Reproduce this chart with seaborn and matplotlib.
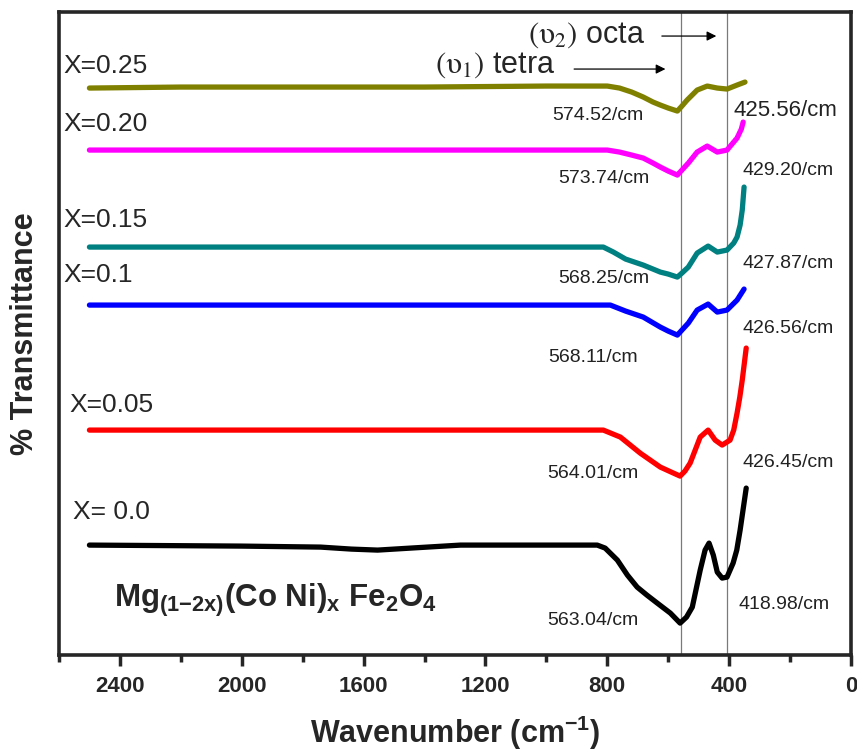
import numpy as np
import pandas as pd
import matplotlib
matplotlib.use("Agg")
import matplotlib.pyplot as plt
import seaborn as sns
from matplotlib.ticker import MultipleLocator

# ---------------- data ----------------
samples = ["X=0.25", "X=0.20", "X=0.15", "X=0.1", "X=0.05", "X= 0.0"]
colors = ["#808000", "#FF00FF", "#008080", "#0000FF", "#FF0000", "#000000"]

wn_025 = [2500, 2200, 1800, 1400, 1000, 800, 760, 720, 682, 650, 626, 600, 570, 555, 538, 505, 472, 439, 407, 374, 348]
t_025 = [567, 568, 568, 568, 569, 569, 567, 563, 558, 553, 550, 547, 544, 549, 555, 565, 569, 567, 566, 570, 573]

wn_020 = [2500, 2000, 1500, 1000, 800, 760, 720, 682, 650, 626, 600, 570, 555, 534, 505, 472, 439, 407, 374, 360, 354]
t_020 = [505, 505, 505, 505, 505, 503, 500, 497, 492, 488, 484, 480, 485, 492, 503, 509, 503, 505, 517, 526, 533]

wn_015 = [2500, 1500, 1000, 813, 780, 740, 682, 626, 600, 570, 555, 534, 505, 469, 439, 407, 385, 374, 364, 357, 351]
t_015 = [408, 408, 408, 408, 403, 396, 390, 383, 381, 378, 382, 388, 402, 409, 403, 405, 412, 418, 430, 445, 468]

wn_010 = [2500, 1500, 1000, 790, 740, 682, 626, 600, 570, 555, 534, 505, 469, 439, 407, 374, 351]
t_010 = [350, 350, 350, 350, 344, 338, 328, 324, 320, 325, 332, 345, 351, 343, 345, 355, 366]

wn_005 = [2500, 1500, 1000, 813, 757, 692, 626, 590, 561, 545, 528, 495, 469, 446, 423, 397, 385, 374, 365, 357, 344]
t_005 = [225, 225, 225, 225, 218, 202, 188, 183, 179, 184, 192, 218, 225, 215, 210, 215, 225, 242, 258, 275, 307]

wn_000 = [2500, 2000, 1741, 1640, 1554, 1446, 1282, 1000, 833, 807, 767, 734, 702, 670, 636, 593, 561, 540, 521, 495,
          479, 466, 452, 439, 423, 407, 387, 375, 364, 344]
t_000 = [110, 109, 108, 106, 105, 107, 110, 110, 110, 107, 95, 80, 68, 60, 52, 42, 32, 38, 48, 85,
         105, 112, 100, 83, 77, 78, 92, 105, 125, 167]

series_wn = [wn_025, wn_020, wn_015, wn_010, wn_005, wn_000]
series_t = [t_025, t_020, t_015, t_010, t_005, t_000]

tetra_peaks = ["574.52/cm", "573.74/cm", "568.25/cm", "568.11/cm", "564.01/cm", "563.04/cm"]
octa_peaks = ["425.56/cm", "429.20/cm", "427.87/cm", "426.56/cm", "426.45/cm", "418.98/cm"]
vlines_wn = [557, 408]
x_ticks = [2400, 2000, 1600, 1200, 800, 400, 0]

# ---------------- styling ----------------
sns.set_style("ticks")
plt.rcParams["font.family"] = ["Liberation Sans", "DejaVu Sans"]
plt.rcParams["mathtext.fontset"] = "custom"
plt.rcParams["mathtext.rm"] = "Liberation Sans"
plt.rcParams["mathtext.bf"] = "Liberation Sans:bold"
plt.rcParams["mathtext.it"] = "Liberation Sans:italic"

rows = []
for s, wn, tt in zip(samples, series_wn, series_t):
    for w, t in zip(wn, tt):
        rows.append({"sample": s, "wavenumber": w, "T": t})
df = pd.DataFrame(rows)

fig = plt.figure(figsize=(8.57, 7.53), dpi=100)
ax = fig.add_axes([0.0688, 0.130, 0.9242, 0.854])

sns.lineplot(data=df, x="wavenumber", y="T", hue="sample", hue_order=samples,
             palette=dict(zip(samples, colors)), linewidth=3.8, legend=False,
             ax=ax, estimator=None, sort=True)
for ln in ax.get_lines():
    ln.set_solid_capstyle("round")
    ln.set_solid_joinstyle("round")

for v in vlines_wn:
    ax.axvline(v, color="#7a7a7a", lw=0.9, zorder=0)

ax.set_xlim(2600, 0)
ax.set_ylim(0, 643)
ax.set_xticks(x_ticks)
ax.xaxis.set_minor_locator(MultipleLocator(200))
ax.set_yticks([])
ax.tick_params(axis="x", which="major", direction="out", length=8, width=2.5, labelsize=16, pad=7)
ax.tick_params(axis="x", which="minor", direction="out", length=5, width=2.5)
for lab in ax.get_xticklabels():
    lab.set_fontweight("bold")
for sp in ax.spines.values():
    sp.set_visible(True)
    sp.set_linewidth(2.6)

ax.set_xlabel("Wavenumber (cm$^{\\mathbf{-1}}$)", fontsize=22, fontweight="bold", labelpad=12)
ax.set_ylabel("% Transmittance", fontsize=22, fontweight="bold")
ax.yaxis.set_label_coords(-0.024, 0.5)

# sample labels
label_pos = [(2587, 589), (2587, 531), (2587, 435), (2587, 380), (2567, 250), (2554, 143)]
for s, (x, y) in zip(samples, label_pos):
    ax.text(x, y, s, fontsize=19, ha="left", va="center")

tetra_pos = [(830, 540), (810, 477), (810, 377), (846, 298), (846, 182), (846, 35)]
for s, (x, y) in zip(tetra_peaks, tetra_pos):
    ax.text(x, y, s, fontsize=14, ha="center", va="center", color="#222222")

octa_pos = [(387, 545), (357, 485), (357, 392), (357, 327), (357, 193), (370, 51)]
for i, (s, (x, y)) in enumerate(zip(octa_peaks, octa_pos)):
    ax.text(x, y, s, fontsize=16 if i == 0 else 14, ha="left", va="center", color="#222222")

ax.text(2420, 48, r"Mg$_{\mathbf{(1{-}2x)}}$(Co Ni)$_{\mathbf{x}}$ Fe$_{\mathbf{2}}$O$_{\mathbf{4}}$",
        fontsize=22.5, fontweight="bold", ha="left", va="baseline")

ax.text(1059, 612, r"$(\mathrm{\upsilon}_2)$ octa", fontsize=22, ha="left", va="baseline", math_fontfamily="stix")
ax.text(1364, 582, r"$(\mathrm{\upsilon}_1)$ tetra", fontsize=22, ha="left", va="baseline", math_fontfamily="stix")
ax.annotate("", xy=(433, 619), xytext=(630, 619),
            arrowprops=dict(arrowstyle="-|>", color="black", lw=0.9, mutation_scale=14))
ax.annotate("", xy=(600, 586), xytext=(918, 586),
            arrowprops=dict(arrowstyle="-|>", color="black", lw=0.9, mutation_scale=14))

fig.savefig("out.png", dpi=100)
